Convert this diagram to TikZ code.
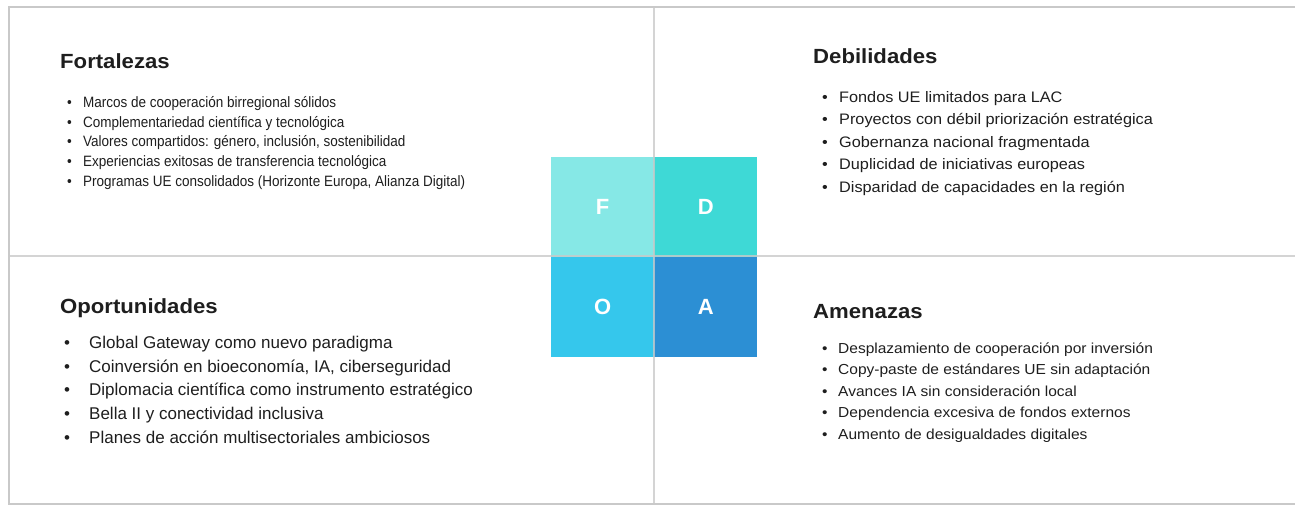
\documentclass[tikz,border=0pt]{standalone}
\usepackage{fontspec}
\setmainfont{Liberation Sans}
\newfontfamily\narrowfont[FakeStretch=0.9]{Liberation Sans}
\newfontfamily\wideafont[FakeStretch=1.07]{Liberation Sans}
\newfontfamily\titlefont[FakeStretch=1.08]{Liberation Sans}
\definecolor{cF}{HTML}{86E8E6}
\definecolor{cD}{HTML}{3ED9D6}
\definecolor{cO}{HTML}{35C7EC}
\definecolor{cA}{HTML}{2C8FD4}
\definecolor{frame}{HTML}{C9C9C9}
\definecolor{ink}{HTML}{1E1E1E}
\tikzset{
  sq/.style={draw=none, minimum width=103pt, minimum height=100pt, inner sep=0pt, anchor=north west,
    text=white, font=\bfseries\fontsize{22}{22}\selectfont},
  ttl/.style={anchor=base west, inner sep=0pt, text=ink, font=\titlefont\bfseries\fontsize{20.5}{20.5}\selectfont},
  itm/.style={anchor=base west, inner sep=0pt, text=ink},
  rule/.style={draw=frame, line width=1.6pt}
}
\begin{document}
\begin{tikzpicture}[x=1pt,y=-1pt]
\useasboundingbox (0,0) rectangle (1295,506);
% squares
\node[sq, fill=cF] (F) at (551,157) {F};
\node[sq, fill=cD] (D) at (654,157) {D};
\node[sq, fill=cO] (O) at (551,257) {O};
\node[sq, fill=cA] (A) at (654,257) {A};
% frame lines
\coordinate (tl) at (9,7);
\coordinate (tr) at (1295,7);
\coordinate (bl) at (9,504);
\coordinate (br) at (1295,504);
\coordinate (vt) at (654,7);
\coordinate (vb) at (654,504);
\coordinate (hl) at (9,256);
\coordinate (hr) at (1295,256);
\draw[rule] (tr) -- (tl) -- (bl) -- (br);
\draw[rule, opacity=0.8] (vt) -- (vb);
\draw[rule, opacity=0.8] (hl) -- (hr);
% titles
\node[ttl] (tF) at (60,68) {Fortalezas};
\node[ttl] (tD) at (813,63.5) {Debilidades};
\node[ttl] (tO) at (60,313) {Oportunidades};
\node[ttl] (tA) at (813,318) {Amenazas};
% Fortalezas items
\foreach \yy/\tx [count=\i] in {107/Marcos de cooperación birregional sólidos,
  127/Complementariedad científica y tecnológica,
  146/{Valores compartidos: género, inclusión, sostenibilidad},
  166/Experiencias exitosas de transferencia tecnológica,
  186/{Programas UE consolidados (Horizonte Europa, Alianza Digital)}}
  \node[itm, font=\narrowfont\fontsize{15}{15}\selectfont] (f\i) at (67,\yy) {\makebox[16pt][l]{\textbullet}\tx};
% Debilidades items
\foreach \yy/\tx [count=\i] in {102/Fondos UE limitados para LAC,
  124.5/Proyectos con débil priorización estratégica,
  147/Gobernanza nacional fragmentada,
  169.5/Duplicidad de iniciativas europeas,
  192/Disparidad de capacidades en la región}
  \node[itm, font=\wideafont\fontsize{15.2}{15.2}\selectfont] (d\i) at (822,\yy) {\makebox[17pt][l]{\textbullet}\tx};
% Oportunidades items
\foreach \yy/\tx [count=\i] in {348/Global Gateway como nuevo paradigma,
  372/{Coinversión en bioeconomía, IA, ciberseguridad},
  395.5/Diplomacia científica como instrumento estratégico,
  419.5/Bella II y conectividad inclusiva,
  443/Planes de acción multisectoriales ambiciosos}
  \node[itm, font=\fontsize{17}{17}\selectfont] (o\i) at (64,\yy) {\makebox[25pt][l]{\textbullet}\tx};
% Amenazas items
\foreach \yy/\tx [count=\i] in {353/Desplazamiento de cooperación por inversión,
  374.5/Copy-paste de estándares UE sin adaptación,
  396/Avances IA sin consideración local,
  417.5/Dependencia excesiva de fondos externos,
  439/Aumento de desigualdades digitales}
  \node[itm, font=\wideafont\fontsize{14.5}{14.5}\selectfont] (a\i) at (822,\yy) {\makebox[16pt][l]{\textbullet}\tx};
\end{tikzpicture}
\end{document}
